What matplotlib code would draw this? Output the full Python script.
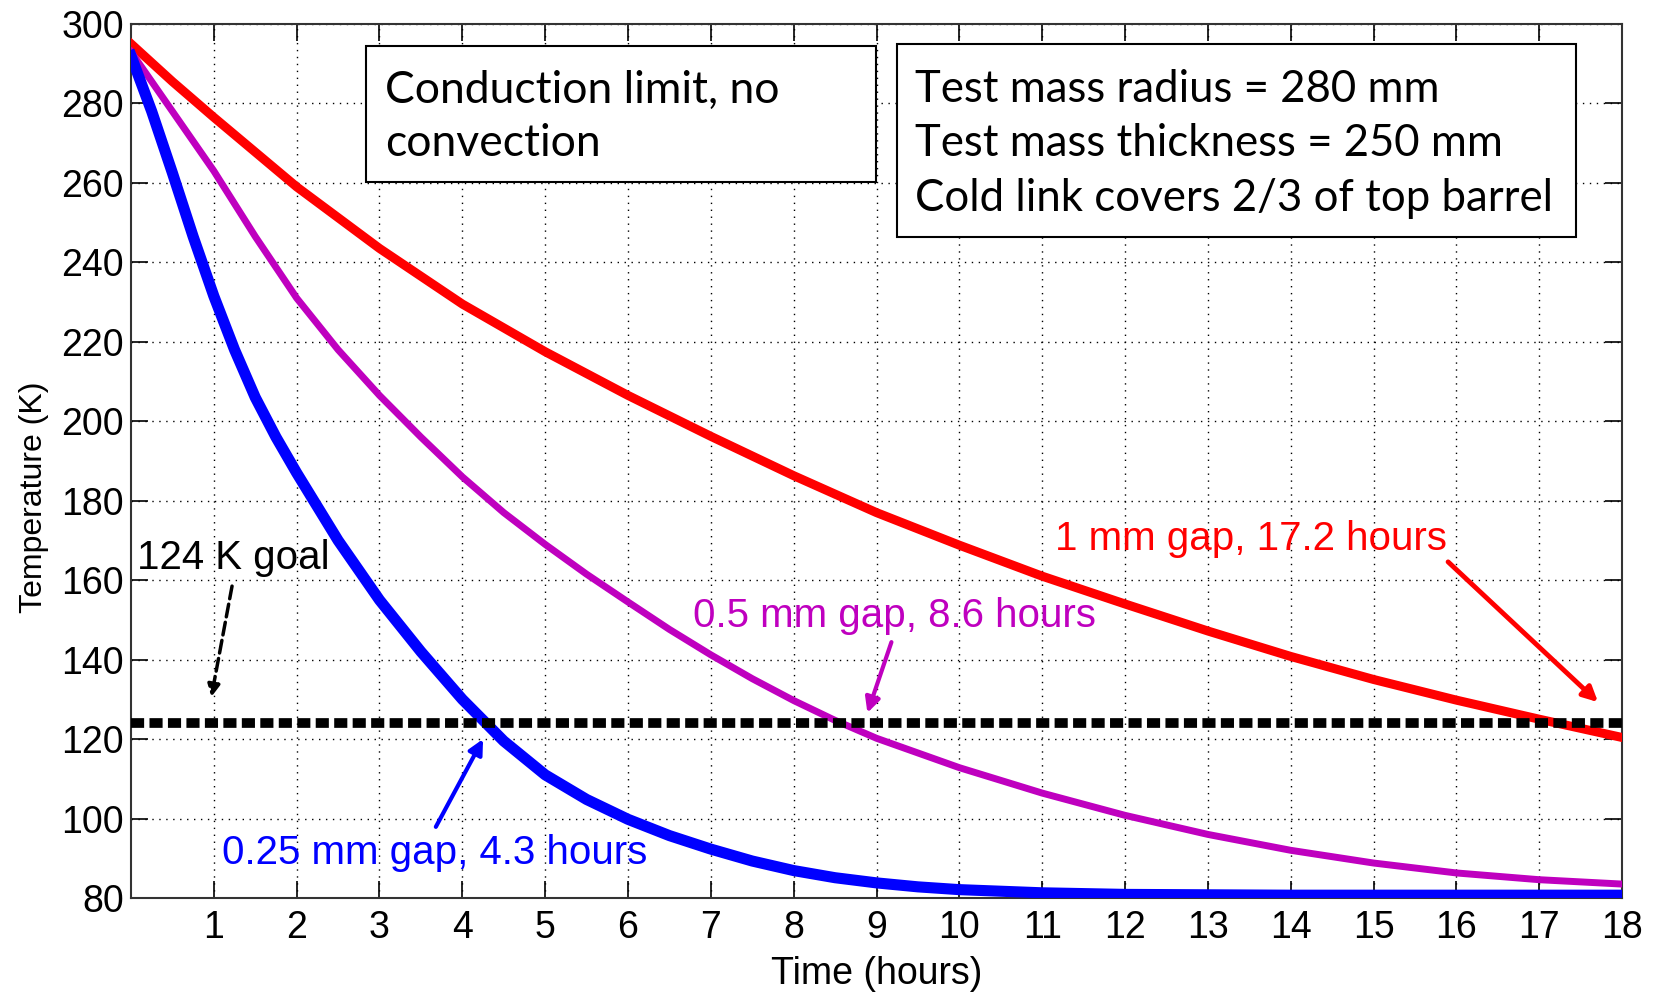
import numpy as np
import matplotlib.pyplot as plt
from matplotlib.patches import Rectangle

# Cool-down curves (time in hours, temperature in K)
t_blue = [0, 0.25, 0.5, 0.75, 1, 1.25, 1.5, 1.75, 2, 2.5, 3, 3.5, 4, 4.5, 5,
          5.5, 6, 6.5, 7, 7.5, 8, 8.5, 9, 9.5, 10, 11, 12, 13, 14, 15, 16,
          17, 18]
T_blue = [292, 278, 262.5, 246.5, 231.5, 218, 206, 196, 187, 170, 155, 142,
          130, 119.5, 111, 104.8, 99.8, 95.7, 92.3, 89.3, 86.9, 85.1, 83.8,
          82.8, 82.1, 81.3, 80.9, 80.8, 80.7, 80.7, 80.7, 80.7, 80.7]

t_mag = [0, 0.5, 1, 1.5, 2, 2.5, 3, 3.5, 4, 4.5, 5, 5.5, 6, 6.5, 7, 7.5, 8,
         8.5, 9, 10, 11, 12, 13, 14, 15, 16, 17, 18]
T_mag = [293, 278, 263, 246.5, 231, 218, 206.5, 196, 186, 177, 169, 161.5,
         154.5, 147.6, 141.2, 135.2, 129.7, 124.7, 120.2, 112.8, 106.4, 100.8,
         96, 92, 88.8, 86.3, 84.6, 83.5]

t_red = [0, 0.5, 1, 2, 3, 4, 5, 6, 7, 8, 9, 10, 11, 12, 13, 14, 15, 16, 17, 18]
T_red = [295, 285.5, 276.5, 259, 243.5, 229.5, 217.5, 206.5, 196.2, 186.3,
         177, 168.8, 161, 154, 147.2, 140.8, 135, 129.8, 125, 120.4]

goal = 124
xticks = list(range(1, 19))
yticks = list(range(80, 301, 20))

tick_font = 'Liberation Sans'
box_font = 'Lato'

fig = plt.figure(figsize=(16.56, 9.94), dpi=100)
ax = fig.add_axes([0.0791, 0.0966, 0.9004, 0.8793])

ax.plot(t_red, T_red, color=(1, 0, 0), lw=6.5, solid_joinstyle='round', zorder=3)
ax.plot(t_mag, T_mag, color=(0.75, 0, 0.75), lw=5, solid_joinstyle='round', zorder=3)
ax.plot(t_blue, T_blue, color=(0, 0, 1), lw=8, solid_joinstyle='round', zorder=3)
ax.axhline(goal, color='k', lw=7, linestyle=(0, (1.35, 0.55)),
           dash_capstyle='butt', zorder=4)

ax.set_xlim(0, 18)
ax.set_ylim(80, 300)
ax.set_xticks(xticks)
ax.set_yticks(yticks)
ax.tick_params(direction='in', length=12, width=1.2, top=True, right=True,
               labelsize=27)
ax.tick_params(axis='x', pad=9)
ax.tick_params(axis='y', pad=5)
for lab in ax.get_xticklabels() + ax.get_yticklabels():
    lab.set_fontfamily(tick_font)
ax.grid(True, color='k', linestyle=(0, (1, 4)), lw=1)
for sp in ax.spines.values():
    sp.set_linewidth(1.5)
    sp.set_color('#333333')

ax.set_xlabel('Time (hours)', fontsize=27, family=tick_font, labelpad=7)
ax.set_ylabel('Temperature (K)', fontsize=23, family=tick_font)
ax.yaxis.set_label_coords(-0.055, 0.459)

# text boxes
ax.add_patch(Rectangle((2.84, 260.2), 6.15, 34.3, fill=True, fc='white',
                       ec='k', lw=1.5, zorder=5))
ax.text(3.07, 276.6, 'Conduction limit, no\nconvection', fontsize=32,
        family=box_font, va='center', ha='left', linespacing=1.38, zorder=6)

ax.add_patch(Rectangle((9.25, 246.4), 8.2, 48.6, fill=True, fc='white',
                       ec='k', lw=1.5, zorder=5))
ax.text(9.47, 269.8,
        'Test mass radius = 280 mm\nTest mass thickness = 250 mm\n'
        'Cold link covers 2/3 of top barrel',
        fontsize=31.5, family=box_font, va='center', ha='left',
        linespacing=1.42, zorder=6)

# annotations
ax.text(0.07, 165.5, '124 K goal', fontsize=29, family=tick_font, color='k',
        va='center', ha='left', zorder=6)
ax.annotate('', xy=(0.97, 130.6), xytext=(1.22, 158.5),
            arrowprops=dict(arrowstyle='-|>', color='k', lw=2.5,
                            linestyle='--', mutation_scale=18,
                            shrinkA=0, shrinkB=0), zorder=6)

ax.text(1.1, 91.3, '0.25 mm gap, 4.3 hours', fontsize=29, family=tick_font,
        color=(0, 0, 1), va='center', ha='left', zorder=6)
ax.annotate('', xy=(4.25, 120.0), xytext=(3.68, 97.9),
            arrowprops=dict(arrowstyle='-|>', color=(0, 0, 1), lw=3,
                            mutation_scale=22, shrinkA=0, shrinkB=0), zorder=6)

ax.text(6.79, 151, '0.5 mm gap, 8.6 hours', fontsize=29, family=tick_font,
        color=(0.75, 0, 0.75), va='center', ha='left', zorder=6)
ax.annotate('', xy=(8.89, 126.6), xytext=(9.18, 144.4),
            arrowprops=dict(arrowstyle='-|>', color=(0.75, 0, 0.75), lw=3,
                            mutation_scale=22, shrinkA=0, shrinkB=0), zorder=6)

ax.text(11.16, 170.4, '1 mm gap, 17.2 hours', fontsize=29, family=tick_font,
        color=(1, 0, 0), va='center', ha='left', zorder=6)
ax.annotate('', xy=(17.71, 129.3), xytext=(15.9, 164.6),
            arrowprops=dict(arrowstyle='-|>', color=(1, 0, 0), lw=3.5,
                            mutation_scale=22, shrinkA=0, shrinkB=0), zorder=6)

fig.savefig('out.png', dpi=100)
